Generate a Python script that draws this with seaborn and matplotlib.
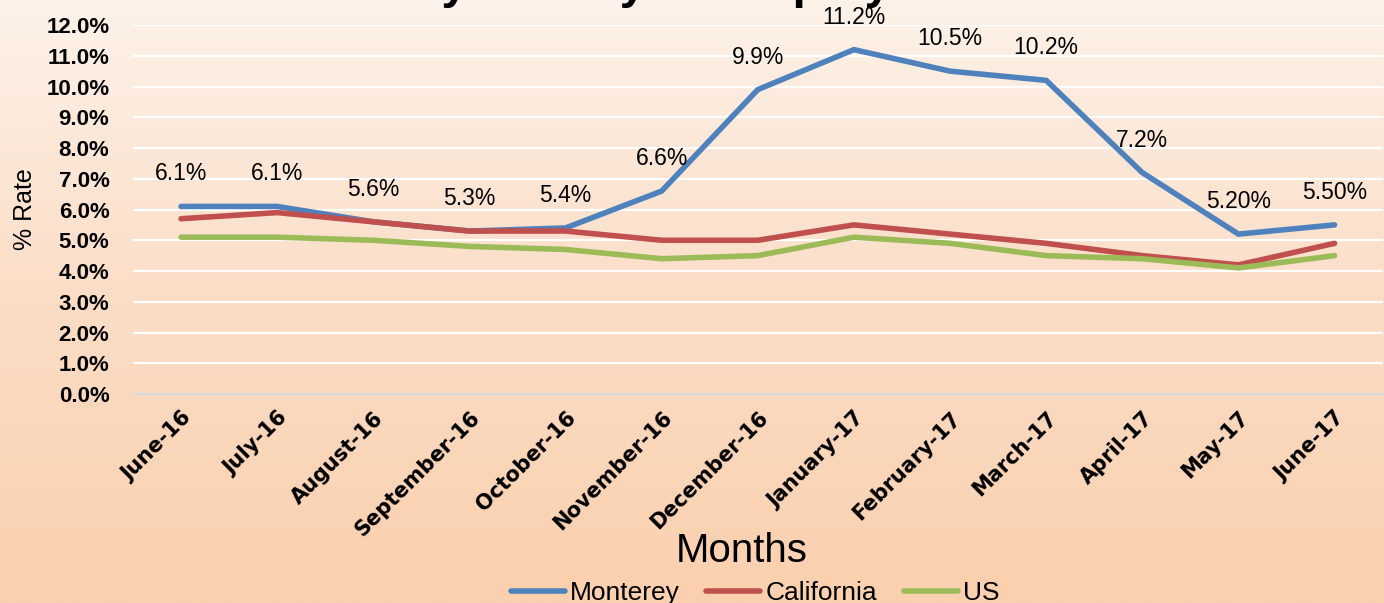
import matplotlib
matplotlib.use("Agg")
import matplotlib.pyplot as plt
import matplotlib.ticker as mticker
from matplotlib.colors import LinearSegmentedColormap
from matplotlib.lines import Line2D
import numpy as np
import pandas as pd
import seaborn as sns

# data
months = ["June-16", "July-16", "August-16", "September-16", "October-16", "November-16",
          "December-16", "January-17", "February-17", "March-17", "April-17", "May-17", "June-17"]
monterey = [6.1, 6.1, 5.6, 5.3, 5.4, 6.6, 9.9, 11.2, 10.5, 10.2, 7.2, 5.2, 5.5]
california = [5.7, 5.9, 5.6, 5.3, 5.3, 5.0, 5.0, 5.5, 5.2, 4.9, 4.5, 4.2, 4.9]
us = [5.1, 5.1, 5.0, 4.8, 4.7, 4.4, 4.5, 5.1, 4.9, 4.5, 4.4, 4.1, 4.5]
monterey_labels = ["6.1%", "6.1%", "5.6%", "5.3%", "5.4%", "6.6%", "9.9%", "11.2%",
                   "10.5%", "10.2%", "7.2%", "5.20%", "5.50%"]
series_names = ["Monterey", "California", "US"]
colors = ["#4F81BD", "#C0504D", "#9BBB59"]

df = pd.DataFrame({
    "Month": months * 3,
    "Rate": monterey + california + us,
    "Series": [s for s in series_names for _ in months],
})

sns.set_style("white")
plt.rcParams['font.family'] = ['Liberation Sans', 'DejaVu Sans']
plt.rcParams['text.color'] = 'black'
plt.rcParams['axes.labelcolor'] = 'black'
plt.rcParams['xtick.color'] = 'black'
plt.rcParams['ytick.color'] = 'black'

fig = plt.figure(figsize=(13.84, 6.03), dpi=100)

# gradient background
bg = fig.add_axes([0, 0, 1, 1], zorder=-10)
cmap = LinearSegmentedColormap.from_list("peach", ["#FDF2E9", "#FBDDC6", "#FAD0AE"])
bg.imshow(np.linspace(0, 1, 256).reshape(-1, 1), aspect="auto", cmap=cmap,
          extent=[0, 1, 0, 1])
bg.axis("off")

ax = fig.add_axes([0.0961, 0.3466, 0.9029, 0.6119])
ax.patch.set_alpha(0)

sns.lineplot(data=df, x="Month", y="Rate", hue="Series", palette=colors,
             linewidth=4, sort=False, ax=ax, legend=False)

for i, (v, lab) in enumerate(zip(monterey, monterey_labels)):
    ax.text(i, v + 1.06, lab, ha="center", va="center", fontsize=16.5, color="black")

ax.set_xlim(-0.5, len(months) - 0.5)
ax.set_ylim(0, 12)
ax.yaxis.set_major_locator(mticker.MultipleLocator(1))
ax.yaxis.set_major_formatter(mticker.FuncFormatter(lambda v, p: f"{v:.1f}%"))
ax.grid(axis="y", color="white", linewidth=1.6)
ax.set_axisbelow(True)

for s in ["top", "right", "left"]:
    ax.spines[s].set_visible(False)
ax.spines["bottom"].set_color("#D9D9D9")
ax.spines["bottom"].set_linewidth(1.5)

ax.set_xticks(range(len(months)))
ax.set_xticklabels(months, rotation=45, ha="right", rotation_mode="anchor",
                   fontsize=15, fontweight="bold", family=["DejaVu Sans"])
ax.set_xticks(np.arange(-0.5, len(months), 1), minor=True)
ax.tick_params(axis="x", which="major", length=0, pad=10)
ax.tick_params(axis="x", which="minor", length=6, color="#D9D9D9", width=1.5)
ax.tick_params(axis="y", length=0, labelsize=16, pad=17)
for t in ax.get_yticklabels():
    t.set_fontweight("bold")

ax.set_xlabel("Months", fontsize=29)
ax.xaxis.set_label_coords(0.487, -0.375)
ax.set_ylabel("% Rate", fontsize=18)
ax.yaxis.set_label_coords(-0.077, 0.5)

# title sits mostly above the canvas, as in the reference
fig.text(0.498, 1.0033, "Monterey County Unemployment Rate", ha="center", va="baseline",
         fontsize=34.5, fontweight="bold")

handles = [Line2D([], [], color=c, linewidth=4) for c in colors]
fig.legend(handles, series_names, loc="center", bbox_to_anchor=(0.5455, 0.0166), ncol=3,
           frameon=False, fontsize=19, handlelength=2.05, columnspacing=1.0,
           handletextpad=0.2, borderpad=0)

fig.savefig("out.png", dpi=100)
